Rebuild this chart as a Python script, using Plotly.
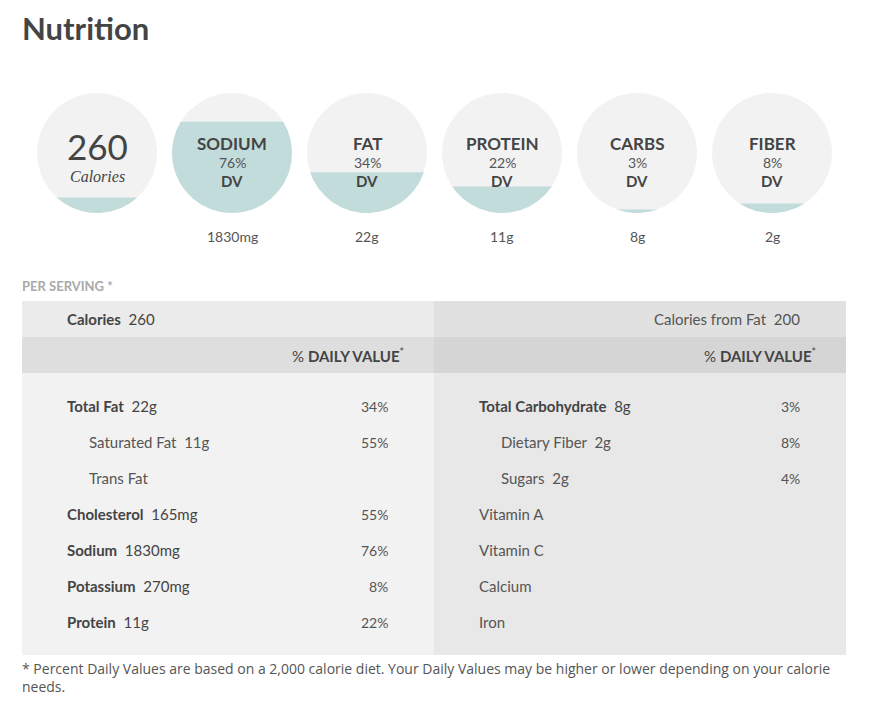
import numpy as np
import plotly.graph_objects as go

# ---------------- data ----------------
calories = 260
calories_from_fat = 200
daily_calories = 2000

circle_labels = ["SODIUM", "FAT", "PROTEIN", "CARBS", "FIBER"]
circle_pct = [76, 34, 22, 3, 8]
circle_amounts = ["1830mg", "22g", "11g", "8g", "2g"]

left_labels = ["Total Fat", "Saturated Fat", "Trans Fat", "Cholesterol", "Sodium", "Potassium", "Protein"]
left_amounts = ["22g", "11g", "", "165mg", "1830mg", "270mg", "11g"]
left_pct = [34, 55, None, 55, 76, 8, 22]
left_indent = [0, 1, 1, 0, 0, 0, 0]
left_bold = [1, 0, 0, 1, 1, 1, 1]

right_labels = ["Total Carbohydrate", "Dietary Fiber", "Sugars", "Vitamin A", "Vitamin C", "Calcium", "Iron"]
right_amounts = ["8g", "2g", "2g", "", "", "", ""]
right_pct = [3, 8, 4, None, None, None, None]
right_indent = [0, 1, 1, 0, 0, 0, 0]
right_bold = [1, 0, 0, 0, 0, 0, 0]

footnote = ("* Percent Daily Values are based on a 2,000 calorie diet. Your Daily Values may be higher "
            "or lower depending on your calorie")
footnote2 = "needs."

# ---------------- style ----------------
FONT = "Lato"
DARK = "#444444"
MID = "#555555"
CIRCLE_BG = "#f2f2f2"
CIRCLE_FILL = "#c1dcdb"
OFF = 8  # page margin of the html body
PAD = 2  # annotation inner padding

W, H = 876, 716
fig = go.Figure()

def circle_points(cx, cy, r, n=240):
    t = np.linspace(0, 2 * np.pi, n)
    return cx + r * np.cos(t), cy + r * np.sin(t)

def segment_points(cx, cy, r, frac, n=240):
    # fill the bottom part of the circle up to height frac * diameter
    level = cy + r - 2 * r * frac
    a = np.arcsin(np.clip((level - cy) / r, -1, 1))
    t = np.linspace(a, np.pi - a, n)
    return cx + r * np.cos(t), cy + r * np.sin(t)

R = 60
CY = 153
x0c = 97
step = 135

ann = []

def add_text(x, y, text, size=15, color=DARK, xanchor="left", family=FONT, yanchor="middle"):
    if xanchor == "left":
        x = x - PAD
    elif xanchor == "right":
        x = x + PAD
    ann.append(dict(x=x, y=y, text=text, showarrow=False, xanchor=xanchor, yanchor=yanchor,
                    align="left", font=dict(family=family, size=size, color=color), xref="x", yref="y"))

# calories circle + nutrient circles
all_fracs = [calories / daily_calories] + [p / 100 for p in circle_pct]
for i, frac in enumerate(all_fracs):
    cx = x0c + i * step
    xs, ys = circle_points(cx, CY, R)
    fig.add_trace(go.Scatter(x=xs, y=ys, fill="toself", fillcolor=CIRCLE_BG, mode="lines",
                             line=dict(width=0, color=CIRCLE_BG), hoverinfo="skip", showlegend=False))
    sx, sy = segment_points(cx, CY, R, frac)
    fig.add_trace(go.Scatter(x=sx, y=sy, fill="toself", fillcolor=CIRCLE_FILL, mode="lines",
                             line=dict(width=0, color=CIRCLE_FILL), hoverinfo="skip", showlegend=False))

add_text(x0c, 146, str(calories), size=35, color=DARK, xanchor="center")
add_text(x0c, 176, "<i>Calories</i>", size=16, color=DARK, xanchor="center", family="Liberation Serif")
for i, (lab, p, amt) in enumerate(zip(circle_labels, circle_pct, circle_amounts)):
    cx = x0c + (i + 1) * step
    add_text(cx, 143, "<b>%s</b>" % lab, size=17, xanchor="center")
    add_text(cx, 162, "%d%%" % p, size=14, color=MID, xanchor="center")
    add_text(cx, 181, "<b>DV</b>", size=15, xanchor="center")
    add_text(cx, 236, amt, size=14, color=MID, xanchor="center")

# table backgrounds
TL, TM, TR = 22, 434, 846
rects = [
    (TL, 301, TM, 337, "#ebebeb"), (TM, 301, TR, 337, "#e1e1e1"),
    (TL, 337, TM, 373, "#dedede"), (TM, 337, TR, 373, "#d5d5d5"),
    (TL, 373, TM, 655, "#f2f2f2"), (TM, 373, TR, 655, "#e8e8e8"),
]
shapes = []
for (x0, y0, x1, y1, c) in rects:
    shapes.append(dict(type="rect", x0=x0, y0=y0, x1=x1, y1=y1, xref="x", yref="y",
                       fillcolor=c, line=dict(width=0), layer="below"))

add_text(TL, 286, "<b>PER SERVING *</b>", size=13, color="#aaaaaa")
add_text(67, 319, "<b>Calories</b>  %d" % calories, size=15, color=DARK)
add_text(800, 319, "Calories from Fat  %d" % calories_from_fat, size=15, color=MID, xanchor="right")
add_text(404, 355, "% <b>DAILY VALUE</b><sup>*</sup>", size=15, color=DARK, xanchor="right")
add_text(816, 355, "% <b>DAILY VALUE</b><sup>*</sup>", size=15, color=DARK, xanchor="right")

ROW0, ROWSTEP = 406, 36

def add_rows(labels, amounts, pct, indent, bold, xl, xr):
    for k, (lab, amt, p, ind, b) in enumerate(zip(labels, amounts, pct, indent, bold)):
        y = ROW0 + k * ROWSTEP
        name = "<b>%s</b>" % lab if b else lab
        txt = name + ("  " + amt if amt else "")
        add_text(xl + 22 * ind, y, txt, size=15, color=DARK if b else MID)
        if p is not None:
            add_text(xr, y, "%d%%" % p, size=14, color=MID, xanchor="right")

add_rows(left_labels, left_amounts, left_pct, left_indent, left_bold, 67, 388)
add_rows(right_labels, right_amounts, right_pct, right_indent, right_bold, 479, 800)

add_text(TL, 657, footnote + "<br>" + footnote2, size=14, color=MID, family="Open Sans", yanchor="top")

add_text(TL, 28, "<b>Nutrition</b>", size=31, color=DARK)

fig.update_layout(
    width=W - 2 * OFF, height=H - 2 * OFF,
    autosize=False,
    margin=dict(l=0, r=0, t=0, b=0),
    paper_bgcolor="white", plot_bgcolor="white",
    xaxis=dict(range=[OFF, W - OFF], visible=False, fixedrange=True),
    yaxis=dict(range=[H - OFF, OFF], visible=False, fixedrange=True),
    shapes=shapes, annotations=ann, showlegend=False,
)
fig.write_html("out.html", config={"displayModeBar": False})
